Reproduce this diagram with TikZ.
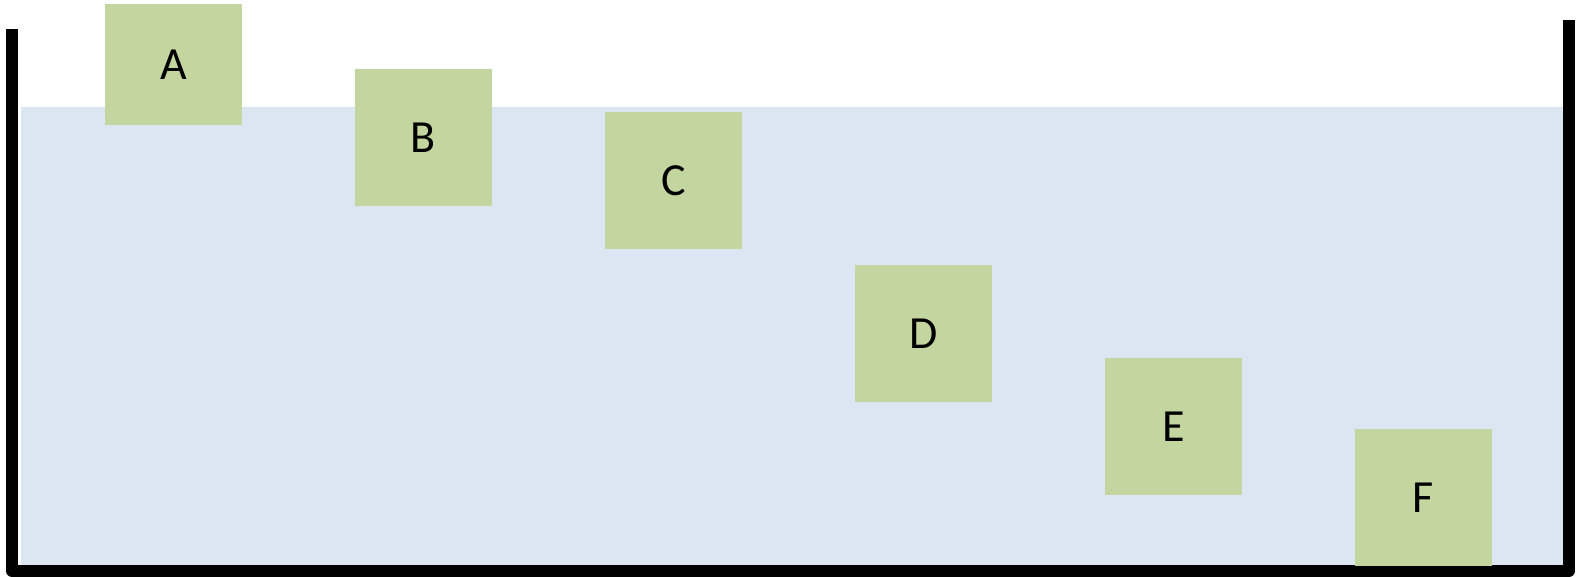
\documentclass[tikz,border=0pt]{standalone}
\usepackage{fontspec}
\setmainfont{Carlito}
\definecolor{waterblue}{RGB}{220,230,242}
\definecolor{blockgreen}{RGB}{196,214,159}

\begin{document}
\begin{tikzpicture}[x=1pt, y=-1pt,
  block/.style={fill=blockgreen, inner sep=0pt, minimum width=137pt, minimum height=137pt,
    font=\fontsize{46}{46}\selectfont}]
  \useasboundingbox (0,0) rectangle (1577,577);
  % Nước trong bể
  \fill[waterblue] (21,107) rectangle (1563,565);
  % Thành bể
  \draw[line width=12pt, line join=round] (12,29) -- (12,571) -- (1569,571) -- (1569,20);
  % Các khối
  \node[block, minimum height=121pt] (A) at (173.5,64.5) {A};
  \node[block] (B) at (423.5,137.5) {B};
  \node[block] (C) at (673.5,180.5) {C};
  \node[block] (D) at (923.5,333.5) {D};
  \node[block] (E) at (1173.5,426.5) {E};
  \node[block] (F) at (1423.5,497.5) {F};
\end{tikzpicture}
\end{document}
